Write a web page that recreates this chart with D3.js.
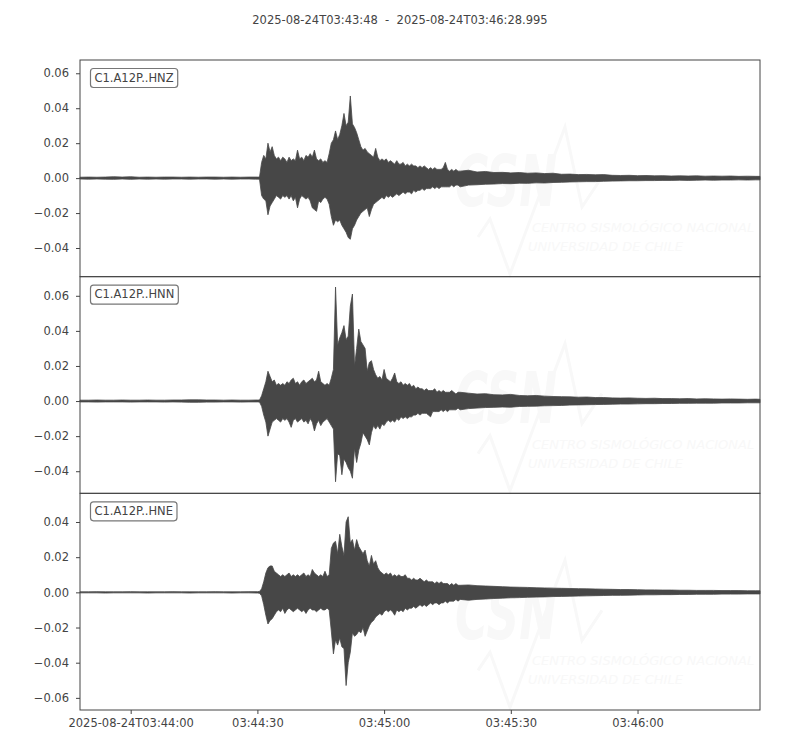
<!DOCTYPE html>
<html>
<head>
<meta charset="utf-8">
<script src="https://cdn.jsdelivr.net/npm/d3@7"></script>
<style>
  body { margin: 0; background: #fff; }
  svg { display: block; font-family: "DejaVu Sans", sans-serif; }
</style>
</head>
<body>
<svg id="chart" width="800" height="750"></svg>
<script>
const titleText = "2025-08-24T03:43:48  -  2025-08-24T03:46:28.995";
const startTime = "2025-08-24T03:43:48Z";
const traceLength = 160.995; // seconds
const channels = ["C1.A12P..HNZ", "C1.A12P..HNN", "C1.A12P..HNE"];
const xTickTimes = ["03:44:00", "03:44:30", "03:45:00", "03:45:30", "03:46:00"];
const yLimits = [[-0.0564, 0.0676], [-0.0526, 0.0709], [-0.0669, 0.0563]];
const yTicks = [
  [-0.04, -0.02, 0, 0.02, 0.04, 0.06],
  [-0.04, -0.02, 0, 0.02, 0.04, 0.06],
  [-0.06, -0.04, -0.02, 0, 0.02, 0.04]
];

// sample times (s after start): every 2 s before the P onset,
// every 0.5 s through the strong shaking, every 2 s in the coda
const sampleSecs = [
  ...d3.range(0, 43, 2),
  ...d3.range(85, 181).map((k) => k / 2),
  ...d3.range(92, 161, 2),
  160.995
];

// max / min of each trace around those times, in units of 0.001
const hnzMax = [
  0.5, 0.6, 0.5, 0.6, 0.8, 0.6, 0.8, 0.5, 0.6, 0.5, 0.6, 0.6, 0.5, 0.6, 0.5, 0.6, 0.6, 0.5, 0.6, 0.5, 0.6, 0.6,
  0.6, 9, 13, 11, 20, 15, 18, 13, 11, 12,
  10, 12, 11, 9, 12, 10, 11, 10, 16, 11,
  12, 10, 13, 12, 14, 12, 16, 11, 10, 11,
  9, 10, 9, 14, 20, 22, 27, 22, 25, 30,
  37, 30, 32, 47, 31, 29, 26, 22, 18, 16,
  17, 15, 14, 13, 12, 17, 12, 10, 11, 10,
  11, 9, 10, 9, 8, 10, 8, 8, 9, 7,
  8, 7, 8, 7, 7, 6, 7, 6, 7, 6,
  5, 6, 5, 6, 5, 5, 5, 6, 9, 5,
  4, 5, 4, 5, 4, 4,
  4.5, 3.5, 3.8, 3.2, 3.3, 3, 3.2, 2.8, 3, 2.6, 2.8, 2.2, 2.3, 2, 2.1, 1.9, 2, 1.6,
  1.5, 1.6, 1.4, 1.5, 1.3, 1.4, 1.2, 1.3, 1.2, 1.3, 1.1, 1.2, 1.1, 1.2, 1.0, 1.1, 1.0, 1.0
];
const hnzMin = [
  -0.5, -0.6, -0.5, -0.6, -0.7, -0.5, -0.7, -0.5, -0.6, -0.5, -0.6, -0.5, -0.5, -0.6, -0.5, -0.5, -0.6, -0.5, -0.6, -0.5, -0.5, -0.6,
  -0.6, -10, -12, -13, -21, -16, -14, -12, -10, -11,
  -12, -10, -11, -10, -12, -10, -13, -11, -17, -12,
  -10, -11, -12, -11, -13, -17, -18, -19, -13, -14,
  -12, -11, -12, -15, -22, -27, -24, -25, -24, -27,
  -29, -31, -34, -35, -29, -27, -24, -22, -20, -19,
  -18, -17, -22, -18, -15, -14, -13, -12, -11, -12,
  -10, -11, -10, -11, -10, -9, -10, -9, -8, -9,
  -8, -8, -9, -7, -8, -7, -7, -6, -7, -6,
  -6, -6, -5, -6, -5, -6, -5, -5, -5, -5,
  -5, -4, -5, -4, -4, -5,
  -4, -3.8, -3.5, -3.4, -3.1, -3.2, -2.9, -3, -2.7, -2.8, -2.5, -2.4, -2.2, -2.1, -2, -2, -1.8, -1.7,
  -1.6, -1.5, -1.5, -1.4, -1.4, -1.3, -1.3, -1.2, -1.3, -1.2, -1.1, -1.2, -1.1, -1.1, -1.0, -1.1, -1.0, -1.0
];
const hnnMax = [
  0.5, 0.5, 0.6, 0.5, 0.5, 0.6, 0.5, 0.5, 0.6, 0.5, 0.5, 0.6, 0.6, 0.7, 0.7, 0.6, 0.6, 0.5, 0.6, 0.5, 0.5, 0.6,
  0.6, 3, 7, 11, 17, 14, 11, 12, 9, 10,
  9, 10, 9, 11, 10, 12, 13, 10, 11, 9,
  11, 12, 10, 11, 12, 13, 11, 12, 17, 11,
  10, 9, 10, 9, 13, 18, 65, 32, 36, 39,
  43, 35, 37, 54, 61, 20, 30, 41, 34, 32,
  30, 17, 22, 23, 18, 15, 13, 14, 12, 18,
  13, 12, 11, 13, 16, 11, 10, 11, 9, 10,
  9, 10, 8, 9, 7, 8, 7, 7, 6, 7,
  6, 6, 6, 7, 5, 6, 5, 6, 5, 5,
  5, 6, 5, 4, 5, 5,
  4.5, 4, 4.2, 3.6, 3.5, 3.8, 3.2, 3, 3.2, 2.8, 2.6, 2.5, 2.4, 2.2, 2.3, 2, 2, 1.8,
  1.7, 1.8, 1.6, 1.5, 1.6, 1.4, 1.4, 1.3, 1.4, 1.2, 1.3, 1.2, 1.1, 1.2, 1.1, 1.0, 1.1, 1.0
];
const hnnMin = [
  -0.5, -0.5, -0.6, -0.5, -0.5, -0.5, -0.6, -0.5, -0.5, -0.5, -0.6, -0.5, -0.6, -0.7, -0.7, -0.6, -0.6, -0.5, -0.5, -0.6, -0.5, -0.5,
  -0.6, -3, -8, -12, -20, -16, -12, -11, -10, -11,
  -12, -10, -11, -10, -12, -15, -11, -10, -12, -11,
  -10, -12, -11, -13, -10, -12, -17, -13, -11, -14,
  -12, -11, -10, -12, -14, -16, -46, -30, -31, -42,
  -33, -35, -38, -40, -44, -27, -35, -28, -24, -18,
  -20, -22, -25, -18, -14, -16, -14, -16, -13, -14,
  -12, -11, -12, -11, -12, -10, -11, -9, -10, -9,
  -10, -9, -9, -8, -8, -7, -8, -7, -7, -7,
  -8, -9, -6, -6, -6, -6, -5, -6, -5, -6,
  -5, -5, -5, -5, -4, -5,
  -4.3, -4, -3.7, -3.6, -3.4, -3.5, -3.1, -3, -2.9, -2.7, -2.6, -2.5, -2.3, -2.2, -2.1, -2, -1.9, -1.8,
  -1.7, -1.7, -1.6, -1.5, -1.5, -1.4, -1.4, -1.3, -1.3, -1.2, -1.2, -1.2, -1.1, -1.1, -1.1, -1.0, -1.0, -1.0
];
const hneMax = [
  0.3, 0.3, 0.4, 0.3, 0.3, 0.3, 0.4, 0.3, 0.3, 0.3, 0.3, 0.4, 0.3, 0.3, 0.3, 0.3, 0.4, 0.3, 0.3, 0.3, 0.4, 0.4,
  0.5, 2, 6, 11, 14, 15, 15, 12, 11, 10,
  9, 10, 9, 10, 11, 9, 10, 9, 10, 9,
  10, 11, 9, 10, 9, 13, 11, 10, 9, 10,
  9, 12, 9, 10, 25, 28, 29, 22, 33, 26,
  21, 40, 43, 28, 30, 24, 30, 26, 24, 22,
  24, 18, 15, 21, 16, 18, 14, 12, 11, 10,
  11, 10, 11, 9, 10, 9, 10, 9, 9, 10,
  8, 8, 7, 8, 7, 7, 8, 7, 6, 7,
  6, 6, 6, 5, 6, 5, 6, 5, 5, 5,
  4, 5, 4, 5, 4, 4,
  4.2, 3.8, 3.6, 3.4, 3.2, 3, 2.9, 2.8, 2.6, 2.5, 2.4, 2.3, 2.2, 2.1, 2, 1.9, 1.8, 1.7,
  1.6, 1.6, 1.5, 1.4, 1.4, 1.3, 1.3, 1.2, 1.2, 1.1, 1.1, 1.1, 1.0, 1.0, 1.0, 0.9, 0.9, 0.9
];
const hneMin = [
  -0.3, -0.3, -0.3, -0.4, -0.3, -0.3, -0.3, -0.3, -0.4, -0.3, -0.3, -0.3, -0.3, -0.4, -0.3, -0.3, -0.3, -0.3, -0.4, -0.3, -0.3, -0.4,
  -0.5, -2, -7, -13, -18, -16, -15, -13, -11, -10,
  -11, -9, -12, -10, -9, -10, -11, -10, -9, -10,
  -11, -10, -12, -10, -9, -10, -10, -11, -10, -9,
  -10, -10, -9, -10, -22, -35, -27, -30, -26, -31,
  -32, -53, -40, -34, -23, -25, -24, -22, -23, -20,
  -25, -22, -19, -17, -16, -14, -13, -12, -13, -11,
  -10, -11, -10, -11, -13, -10, -11, -10, -11, -9,
  -10, -9, -9, -8, -9, -8, -7, -8, -7, -8,
  -7, -6, -7, -6, -6, -7, -6, -6, -5, -6,
  -5, -5, -5, -4, -5, -4,
  -4.5, -4, -3.8, -3.5, -3.3, -3.1, -3, -2.8, -2.7, -2.6, -2.4, -2.3, -2.2, -2.1, -2, -1.9, -1.8, -1.7,
  -1.7, -1.6, -1.5, -1.4, -1.4, -1.3, -1.3, -1.2, -1.2, -1.1, -1.1, -1.1, -1.0, -1.0, -1.0, -0.9, -0.9, -0.9
];

const traceMax = [hnzMax, hnnMax, hneMax];
const traceMin = [hnzMin, hnnMin, hneMin];

const width = 800;
const margin = { top: 60, right: 40, bottom: 40, left: 80 };
const panelHeight = (710 - margin.top) / 3;
const ink = "#444444";
const traceColor = "#474747";
const markColor = "#f8f8f8";
const fontSize = "11.5px";

const svg = d3.select("#chart");

const t0 = new Date(startTime);
const t1 = new Date(t0.getTime() + traceLength * 1000);
const x = d3.scaleUtc().domain([t0, t1]).range([margin.left, width - margin.right]);
const secToDate = (s) => new Date(t0.getTime() + s * 1000);

// title
svg
  .append("text")
  .attr("x", 400)
  .attr("y", 24)
  .attr("text-anchor", "middle")
  .attr("font-size", fontSize)
  .attr("fill", ink)
  .style("white-space", "pre")
  .text(titleText);

channels.forEach((name, i) => {
  const top = margin.top + i * panelHeight;
  const bottom = top + panelHeight;

  const y = d3.scaleLinear().domain(yLimits[i]).range([bottom, top]);

  const panel = svg.append("g");

  // faint CSN logo in the background
  const logo = panel.append("g").attr("transform", `translate(0, ${top})`);
  logo
    .append("text")
    .attr("x", 455)
    .attr("y", 146)
    .attr("font-size", "72px")
    .attr("font-weight", "bold")
    .attr("font-style", "italic")
    .attr("textLength", 102)
    .attr("lengthAdjust", "spacingAndGlyphs")
    .attr("fill", markColor)
    .text("CSN");
  logo
    .append("polyline")
    .attr("points", "478,177 490,159 510,214 565,67 582,147 602,117")
    .attr("fill", "none")
    .attr("stroke", markColor)
    .attr("stroke-width", 3);
  logo
    .append("text")
    .attr("x", 532)
    .attr("y", 172)
    .attr("font-size", "13px")
    .attr("font-style", "italic")
    .attr("fill", markColor)
    .text("CENTRO SISMOLÓGICO NACIONAL");
  logo
    .append("text")
    .attr("x", 528)
    .attr("y", 191)
    .attr("font-size", "13px")
    .attr("font-style", "italic")
    .attr("fill", markColor)
    .text("UNIVERSIDAD DE CHILE");

  // waveform envelope
  const samples = sampleSecs.map((s, k) => ({
    time: secToDate(s),
    hi: traceMax[i][k] / 1000,
    lo: traceMin[i][k] / 1000
  }));

  const area = d3
    .area()
    .x((d) => x(d.time))
    .y0((d) => y(d.lo))
    .y1((d) => y(d.hi));

  panel
    .append("path")
    .datum(samples)
    .attr("d", area)
    .attr("fill", traceColor)
    .attr("stroke", traceColor)
    .attr("stroke-width", 0.8)
    .attr("stroke-linejoin", "round");

  // y axis
  const yAxis = panel
    .append("g")
    .attr("transform", `translate(${margin.left}, 0)`)
    .call(
      d3
        .axisLeft(y)
        .tickValues(yTicks[i])
        .tickFormat(d3.format(".2f"))
        .tickSize(4)
        .tickPadding(7)
    );
  yAxis.select(".domain").remove();
  yAxis.selectAll("line").attr("stroke", ink);
  yAxis
    .selectAll("text")
    .attr("fill", ink)
    .attr("font-size", fontSize)
    .attr("font-family", "DejaVu Sans");

  // frame
  panel
    .append("rect")
    .attr("x", margin.left)
    .attr("y", top)
    .attr("width", width - margin.right - margin.left)
    .attr("height", panelHeight)
    .attr("fill", "none")
    .attr("stroke", ink)
    .attr("stroke-width", 1);

  // channel label box
  const labelBox = panel.append("rect");
  const label = panel
    .append("text")
    .attr("x", 94.5)
    .attr("y", top + 21.5)
    .attr("font-size", fontSize)
    .attr("fill", ink)
    .text(name);
  const bb = label.node().getBBox();
  labelBox
    .attr("x", bb.x - 4)
    .attr("y", top + 8.5)
    .attr("width", bb.width + 8)
    .attr("height", 19)
    .attr("rx", 3)
    .attr("fill", "#fff")
    .attr("stroke", "#777")
    .attr("stroke-width", 1.2);

  // x axis on the last panel only
  if (i === channels.length - 1) {
    const tickDates = xTickTimes.map((t) => new Date(`2025-08-24T${t}Z`));
    const xAxis = panel
      .append("g")
      .attr("transform", `translate(0, ${bottom})`)
      .call(
        d3
          .axisBottom(x)
          .tickValues(tickDates)
          .tickFormat((d, k) => (k === 0 ? `2025-08-24T${xTickTimes[k]}` : xTickTimes[k]))
          .tickSize(4)
          .tickPadding(5)
      );
    xAxis.select(".domain").remove();
    xAxis.selectAll("line").attr("stroke", ink);
    xAxis
      .selectAll("text")
      .attr("fill", ink)
      .attr("font-size", fontSize)
      .attr("font-family", "DejaVu Sans");
  }
});
</script>
</body>
</html>
